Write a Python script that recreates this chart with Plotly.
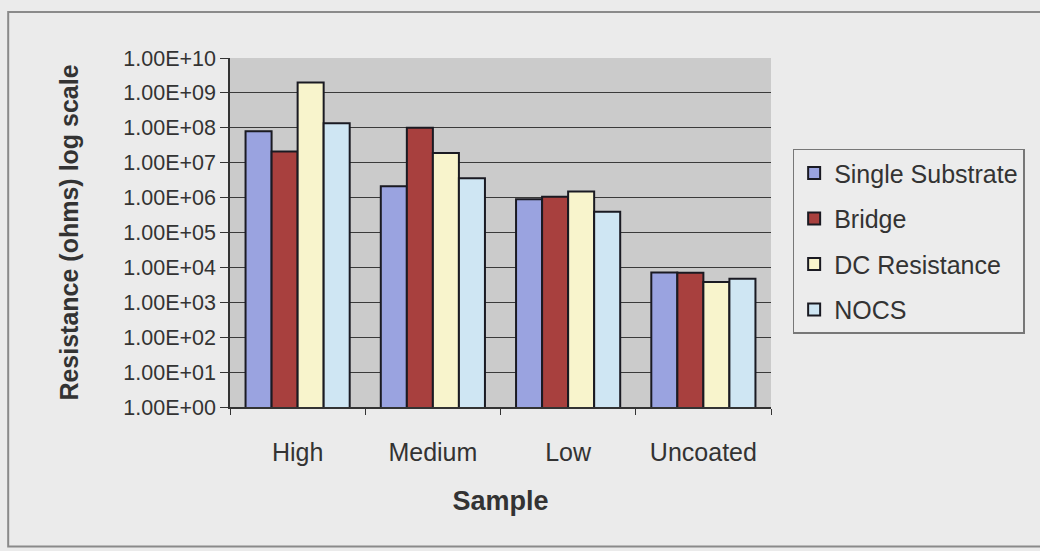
import plotly.graph_objects as go

categories = ["High", "Medium", "Low", "Uncoated"]
single_substrate = [8.0e7, 2.1e6, 9.0e5, 7.2e3]
bridge = [2.1e7, 1.0e8, 1.05e6, 7.0e3]
dc_resistance = [2.0e9, 1.9e7, 1.5e6, 3.8e3]
nocs = [1.35e8, 3.6e6, 3.9e5, 4.7e3]
series_names = ["Single Substrate", "Bridge", "DC Resistance", "NOCS"]
tick_values = [1e0, 1e1, 1e2, 1e3, 1e4, 1e5, 1e6, 1e7, 1e8, 1e9, 1e10]
tick_labels = ["1.00E+00", "1.00E+01", "1.00E+02", "1.00E+03", "1.00E+04",
               "1.00E+05", "1.00E+06", "1.00E+07", "1.00E+08", "1.00E+09", "1.00E+10"]

colors = ["#9aa3e0", "#a8403e", "#f8f4cc", "#cfe6f3"]
series = [single_substrate, bridge, dc_resistance, nocs]

fig = go.Figure()
for i, (name, vals) in enumerate(zip(series_names, series)):
    fig.add_trace(go.Bar(
        x=categories, y=vals, name=name, legendgroup=name,
        marker=dict(color=colors[i], line=dict(color="#1a1a22", width=2)),
    ))

FONT = "Liberation Sans, Arial, sans-serif"
fig.update_layout(
    width=1040, height=551,
    margin=dict(l=230, r=269, t=58, b=144),
    paper_bgcolor="#ebebeb",
    plot_bgcolor="#cbcbcb",
    barmode="group", bargap=0.23, bargroupgap=0,
    font=dict(family=FONT, color="#333333", size=19),
    showlegend=True,
    legend=dict(
        x=1.04, y=0.74, xanchor="left", yanchor="top",
        bgcolor="#ececec", bordercolor="#777777", borderwidth=1.5,
        font=dict(size=25, color="#333333"),
        traceorder="grouped", tracegroupgap=10,
        itemwidth=30,
    ),
    xaxis=dict(
        type="category", tickson="boundaries", ticks="outside", ticklen=6,
        tickcolor="#333333", showline=True, linecolor="#333333", linewidth=1.5,
        tickfont=dict(size=25), showgrid=False, ticklabelstandoff=22,
        title=dict(text="<b>Sample</b>", font=dict(size=27, color="#333333"), standoff=26),
    ),
    yaxis=dict(
        type="log", range=[0, 10], tickvals=tick_values, ticktext=tick_labels,
        ticks="outside", ticklen=8, tickcolor="#333333",
        showline=True, linecolor="#333333", linewidth=1.5,
        showgrid=True, gridcolor="#3a3a3a", gridwidth=1.3,
        tickfont=dict(size=21.5),
        title=dict(text="<b>Resistance (ohms) log scale</b>", font=dict(size=25, color="#333333"), standoff=38),
        zeroline=False,
    ),
)

fig.add_shape(type="rect", xref="paper", yref="paper",
              x0=-0.41, x1=1.6, y0=-0.40, y1=1.132,
              line=dict(color="#8a8a8a", width=2), fillcolor="rgba(0,0,0,0)", layer="below")

fig.write_html("out.html")
